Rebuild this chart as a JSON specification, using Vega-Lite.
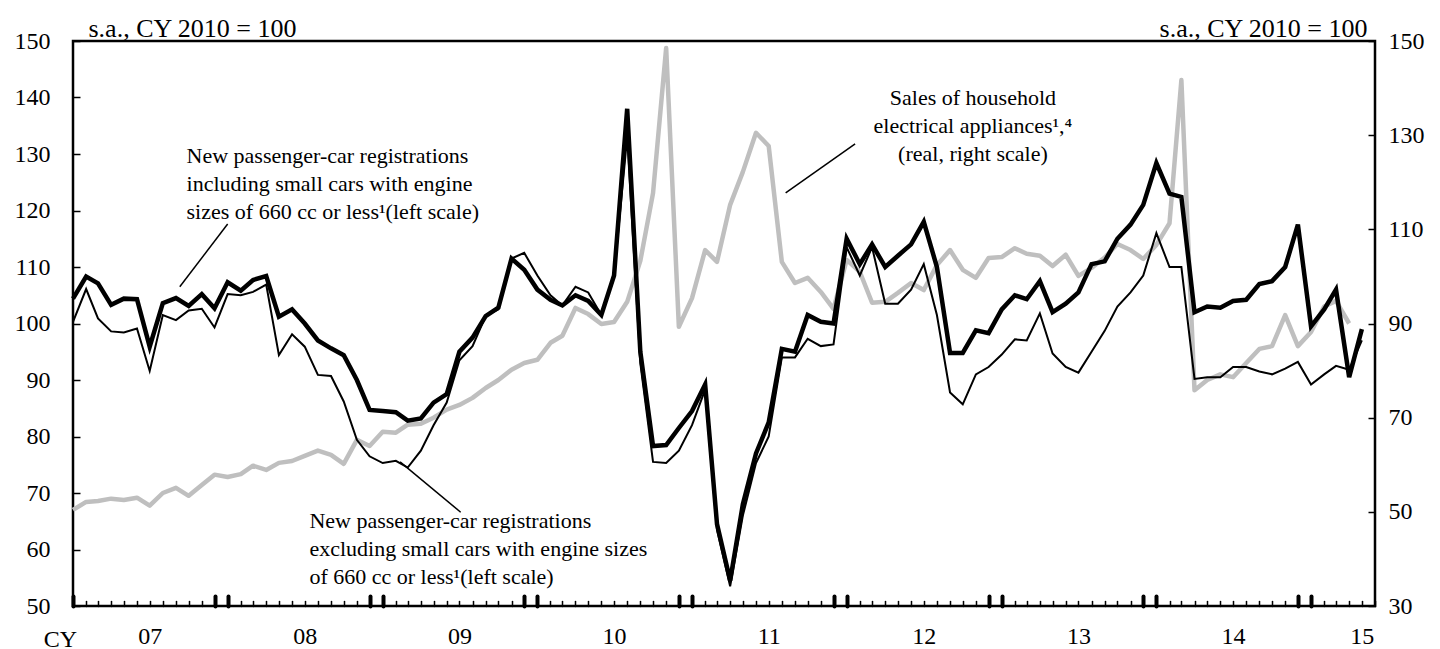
{
  "$schema": "https://vega.github.io/schema/vega-lite/v6.json",
  "autosize": {"type": "none"},
  "width": 1302,
  "height": 565,
  "padding": {"left": 73, "top": 41, "right": 65, "bottom": 43},
  "background": "white",
  "config": {
    "view": {"stroke": "black", "strokeWidth": 2.5},
    "font": "Liberation Serif",
    "axis": {"labelFont": "Liberation Serif", "titleFont": "Liberation Serif", "labelColor": "black", "titleColor": "black", "labelFontSize": 24, "titleFontSize": 26, "titleFontWeight": "normal", "grid": false, "domain": false, "tickColor": "black"}
  },
  "data": {"values": [
    {"month": "2007-01-01", "inc": 104.4, "exc": 100.3, "app": 50.4},
    {"month": "2007-02-01", "inc": 108.3, "exc": 106.1, "app": 52.1},
    {"month": "2007-03-01", "inc": 107.1, "exc": 100.9, "app": 52.3},
    {"month": "2007-04-01", "inc": 103.3, "exc": 98.6, "app": 52.8},
    {"month": "2007-05-01", "inc": 104.4, "exc": 98.4, "app": 52.5},
    {"month": "2007-06-01", "inc": 104.3, "exc": 99.1, "app": 53.0},
    {"month": "2007-07-01", "inc": 95.9, "exc": 91.6, "app": 51.3},
    {"month": "2007-08-01", "inc": 103.6, "exc": 101.5, "app": 54.0},
    {"month": "2007-09-01", "inc": 104.5, "exc": 100.6, "app": 55.1},
    {"month": "2007-10-01", "inc": 103.1, "exc": 102.3, "app": 53.4},
    {"month": "2007-11-01", "inc": 105.2, "exc": 102.6, "app": 55.7},
    {"month": "2007-12-01", "inc": 102.7, "exc": 99.3, "app": 57.9},
    {"month": "2008-01-01", "inc": 107.3, "exc": 105.2, "app": 57.4},
    {"month": "2008-02-01", "inc": 105.8, "exc": 105.0, "app": 58.0},
    {"month": "2008-03-01", "inc": 107.7, "exc": 105.6, "app": 59.8},
    {"month": "2008-04-01", "inc": 108.4, "exc": 106.9, "app": 58.9},
    {"month": "2008-05-01", "inc": 101.2, "exc": 94.4, "app": 60.4},
    {"month": "2008-06-01", "inc": 102.5, "exc": 98.1, "app": 60.8},
    {"month": "2008-07-01", "inc": 100.0, "exc": 95.9, "app": 61.9},
    {"month": "2008-08-01", "inc": 97.0, "exc": 90.9, "app": 63.0},
    {"month": "2008-09-01", "inc": 95.6, "exc": 90.7, "app": 62.1},
    {"month": "2008-10-01", "inc": 94.4, "exc": 86.2, "app": 60.2},
    {"month": "2008-11-01", "inc": 90.0, "exc": 79.4, "app": 65.3},
    {"month": "2008-12-01", "inc": 84.7, "exc": 76.5, "app": 64.0},
    {"month": "2009-01-01", "inc": 84.5, "exc": 75.3, "app": 67.0},
    {"month": "2009-02-01", "inc": 84.3, "exc": 75.7, "app": 66.8},
    {"month": "2009-03-01", "inc": 82.8, "exc": 74.5, "app": 68.5},
    {"month": "2009-04-01", "inc": 83.2, "exc": 77.5, "app": 68.7},
    {"month": "2009-05-01", "inc": 86.0, "exc": 82.0, "app": 70.0},
    {"month": "2009-06-01", "inc": 87.5, "exc": 86.0, "app": 71.7},
    {"month": "2009-07-01", "inc": 95.0, "exc": 93.5, "app": 72.7},
    {"month": "2009-08-01", "inc": 97.5, "exc": 96.0, "app": 74.2},
    {"month": "2009-09-01", "inc": 101.3, "exc": 101.3, "app": 76.3},
    {"month": "2009-10-01", "inc": 102.8, "exc": 102.5, "app": 78.0},
    {"month": "2009-11-01", "inc": 111.5, "exc": 111.5, "app": 80.2},
    {"month": "2009-12-01", "inc": 109.5, "exc": 112.5, "app": 81.6},
    {"month": "2010-01-01", "inc": 106.0, "exc": 108.5, "app": 82.3},
    {"month": "2010-02-01", "inc": 104.2, "exc": 105.0, "app": 85.9},
    {"month": "2010-03-01", "inc": 103.2, "exc": 103.2, "app": 87.4},
    {"month": "2010-04-01", "inc": 105.0, "exc": 106.5, "app": 93.3},
    {"month": "2010-05-01", "inc": 104.0, "exc": 105.5, "app": 92.0},
    {"month": "2010-06-01", "inc": 101.5, "exc": 101.5, "app": 89.9},
    {"month": "2010-07-01", "inc": 108.5, "exc": 108.5, "app": 90.3},
    {"month": "2010-08-01", "inc": 138.0, "exc": 133.0, "app": 94.6},
    {"month": "2010-09-01", "inc": 95.0, "exc": 93.0, "app": 103.3},
    {"month": "2010-10-01", "inc": 78.3, "exc": 75.5, "app": 117.7},
    {"month": "2010-11-01", "inc": 78.5, "exc": 75.3, "app": 148.5},
    {"month": "2010-12-01", "inc": 81.5, "exc": 77.5, "app": 89.3},
    {"month": "2011-01-01", "inc": 84.5, "exc": 82.0, "app": 95.4},
    {"month": "2011-02-01", "inc": 89.2, "exc": 88.3, "app": 105.6},
    {"month": "2011-03-01", "inc": 64.5, "exc": 63.5, "app": 103.1},
    {"month": "2011-04-01", "inc": 54.5, "exc": 53.5, "app": 115.2},
    {"month": "2011-05-01", "inc": 68.0, "exc": 66.0, "app": 122.2},
    {"month": "2011-06-01", "inc": 77.0, "exc": 75.3, "app": 130.5},
    {"month": "2011-07-01", "inc": 82.5, "exc": 80.0, "app": 127.7},
    {"month": "2011-08-01", "inc": 95.5, "exc": 94.0, "app": 103.1},
    {"month": "2011-09-01", "inc": 95.0, "exc": 94.0, "app": 98.6},
    {"month": "2011-10-01", "inc": 101.5, "exc": 97.3, "app": 99.7},
    {"month": "2011-11-01", "inc": 100.3, "exc": 96.0, "app": 96.7},
    {"month": "2011-12-01", "inc": 100.0, "exc": 96.3, "app": 93.1},
    {"month": "2012-01-01", "inc": 115.0, "exc": 113.5, "app": 103.5},
    {"month": "2012-02-01", "inc": 110.5, "exc": 108.5, "app": 101.0},
    {"month": "2012-03-01", "inc": 114.0, "exc": 113.5, "app": 94.4},
    {"month": "2012-04-01", "inc": 110.0, "exc": 103.5, "app": 94.6},
    {"month": "2012-05-01", "inc": 112.0, "exc": 103.5, "app": 96.5},
    {"month": "2012-06-01", "inc": 114.0, "exc": 106.0, "app": 98.6},
    {"month": "2012-07-01", "inc": 118.0, "exc": 110.5, "app": 97.1},
    {"month": "2012-08-01", "inc": 110.0, "exc": 101.5, "app": 102.4},
    {"month": "2012-09-01", "inc": 94.8, "exc": 87.8, "app": 105.6},
    {"month": "2012-10-01", "inc": 94.8, "exc": 85.7, "app": 101.4},
    {"month": "2012-11-01", "inc": 98.8, "exc": 91.0, "app": 99.7},
    {"month": "2012-12-01", "inc": 98.3, "exc": 92.3, "app": 103.9},
    {"month": "2013-01-01", "inc": 102.5, "exc": 94.5, "app": 104.1},
    {"month": "2013-02-01", "inc": 105.0, "exc": 97.2, "app": 106.0},
    {"month": "2013-03-01", "inc": 104.3, "exc": 97.0, "app": 104.8},
    {"month": "2013-04-01", "inc": 107.5, "exc": 101.8, "app": 104.4},
    {"month": "2013-05-01", "inc": 102.0, "exc": 94.7, "app": 102.2},
    {"month": "2013-06-01", "inc": 103.5, "exc": 92.3, "app": 104.6},
    {"month": "2013-07-01", "inc": 105.5, "exc": 91.3, "app": 100.1},
    {"month": "2013-08-01", "inc": 110.5, "exc": 95.0, "app": 101.8},
    {"month": "2013-09-01", "inc": 111.0, "exc": 98.7, "app": 104.0},
    {"month": "2013-10-01", "inc": 115.0, "exc": 103.0, "app": 106.9},
    {"month": "2013-11-01", "inc": 117.5, "exc": 105.5, "app": 105.6},
    {"month": "2013-12-01", "inc": 121.0, "exc": 108.5, "app": 103.7},
    {"month": "2014-01-01", "inc": 128.4, "exc": 116.0, "app": 106.7},
    {"month": "2014-02-01", "inc": 123.0, "exc": 110.0, "app": 111.3},
    {"month": "2014-03-01", "inc": 122.4, "exc": 110.0, "app": 141.7},
    {"month": "2014-04-01", "inc": 102.0, "exc": 90.2, "app": 75.8},
    {"month": "2014-05-01", "inc": 103.0, "exc": 90.5, "app": 78.0},
    {"month": "2014-06-01", "inc": 102.8, "exc": 90.5, "app": 79.2},
    {"month": "2014-07-01", "inc": 104.0, "exc": 92.3, "app": 78.6},
    {"month": "2014-08-01", "inc": 104.2, "exc": 92.3, "app": 81.6},
    {"month": "2014-09-01", "inc": 107.0, "exc": 91.5, "app": 84.6},
    {"month": "2014-10-01", "inc": 107.5, "exc": 91.0, "app": 85.2},
    {"month": "2014-11-01", "inc": 110.0, "exc": 92.0, "app": 91.8},
    {"month": "2014-12-01", "inc": 117.5, "exc": 93.2, "app": 85.2},
    {"month": "2015-01-01", "inc": 99.5, "exc": 89.2, "app": 88.2},
    {"month": "2015-02-01", "inc": 102.5, "exc": 91.0, "app": 93.6},
    {"month": "2015-03-01", "inc": 106.0, "exc": 92.5, "app": 94.8},
    {"month": "2015-04-01", "inc": 90.5, "exc": 91.8, "app": 90.0},
    {"month": "2015-05-01", "inc": 99.0, "exc": 97.0, "app": null}
  ]},
  "layer": [
    {
      "mark": {"type": "line", "color": "#bfbfbf", "strokeWidth": 4.5, "strokeJoin": "round"},
      "encoding": {
        "x": {
          "field": "month", "type": "temporal",
          "scale": {"type": "utc", "nice": false, "domain": [{"year": 2007, "month": 1, "date": 1, "utc": true}, {"year": 2015, "month": 6, "date": 1, "utc": true}]},
          "axis": {
            "tickCount": {"interval": "month", "step": 1},
            "tickSize": {"condition": {"test": "utcmonth(datum.value) == 0 || utcmonth(datum.value) == 11", "value": -10}, "value": -5},
            "tickWidth": {"condition": {"test": "utcmonth(datum.value) == 0 || utcmonth(datum.value) == 11", "value": 4}, "value": 1.5},
            "tickCap": "round",
            "labelExpr": "(utcmonth(datum.value) == 6 && utcyear(datum.value) < 2015) || (utcyear(datum.value) == 2015 && utcmonth(datum.value) == 4) ? utcFormat(datum.value, '%y') : ''",
            "labelOverlap": false, "labelFlush": false, "labelBound": false,
            "labelPadding": 23, "labelAlign": "center",
            "title": "CY", "titleFontSize": 24, "titleX": -13, "titleY": 40, "titleAlign": "center", "titleBaseline": "alphabetic", "titleAnchor": null
          }
        },
        "y": {"field": "app", "type": "quantitative", "scale": {"domain": [30, 150], "nice": false, "zero": false},
          "axis": {"orient": "right", "values": [30, 50, 70, 90, 110, 130, 150], "tickSize": -7, "tickWidth": 1.5, "labelPadding": 20, "labelAlign": "left",
            "title": "s.a., CY 2010 = 100", "titleAngle": 0, "titleX": -8, "titleY": -5, "titleAlign": "right", "titleBaseline": "alphabetic"}}
      }
    },
    {
      "layer": [
        {
          "mark": {"type": "line", "color": "black", "strokeWidth": 2},
          "encoding": {
            "x": {"field": "month", "type": "temporal"},
            "y": {"field": "exc", "type": "quantitative", "scale": {"domain": [50, 150], "nice": false, "zero": false},
            "axis": {"orient": "left", "values": [50, 60, 70, 80, 90, 100, 110, 120, 130, 140, 150], "tickSize": -7, "tickWidth": 1.5, "labelPadding": 30, "labelAlign": "right",
              "title": "s.a., CY 2010 = 100", "titleAngle": 0, "titleX": 15, "titleY": -5, "titleAlign": "left", "titleBaseline": "alphabetic"}}}
        },
        {
          "mark": {"type": "line", "color": "black", "strokeWidth": 4.5},
          "encoding": {"x": {"field": "month", "type": "temporal"}, "y": {"field": "inc", "type": "quantitative"}}
        },
        {
          "data": {"values": [{}]},
          "mark": {"type": "rule", "color": "black", "strokeWidth": 1.5},
          "encoding": {
            "x": {"datum": {"year": 2007, "month": 9, "date": 10, "utc": true}, "type": "temporal"},
            "x2": {"datum": {"year": 2008, "month": 1, "date": 1, "utc": true}},
            "y": {"datum": 106.5}, "y2": {"datum": 117.6}
          }
        },
        {
          "data": {"values": [{}]},
          "mark": {"type": "rule", "color": "black", "strokeWidth": 1.5},
          "encoding": {
            "x": {"datum": {"year": 2011, "month": 8, "date": 10, "utc": true}, "type": "temporal"},
            "x2": {"datum": {"year": 2012, "month": 1, "date": 21, "utc": true}},
            "y": {"datum": 123.1}, "y2": {"datum": 131.8}
          }
        },
        {
          "data": {"values": [{}]},
          "mark": {"type": "rule", "color": "black", "strokeWidth": 1.5},
          "encoding": {
            "x": {"datum": {"year": 2009, "month": 2, "date": 11, "utc": true}, "type": "temporal"},
            "x2": {"datum": {"year": 2009, "month": 7, "date": 4, "utc": true}},
            "y": {"datum": 75.5}, "y2": {"datum": 66.6}
          }
        },
        {
          "data": {"values": [{}]},
          "mark": {"type": "text", "align": "left", "baseline": "middle", "fontSize": 22, "lineHeight": 28, "font": "Liberation Serif",
            "text": ["New passenger-car registrations", "including small cars with engine", "sizes of 660 cc or less¹(left scale)"]},
          "encoding": {
            "x": {"datum": {"year": 2007, "month": 9, "date": 26, "utc": true}, "type": "temporal"},
            "y": {"datum": 129.7}
          }
        },
        {
          "data": {"values": [{}]},
          "mark": {"type": "text", "align": "center", "baseline": "middle", "fontSize": 22, "lineHeight": 28, "font": "Liberation Serif",
            "text": ["Sales of household", "electrical appliances¹,⁴", " (real, right scale)"]},
          "encoding": {
            "x": {"datum": {"year": 2012, "month": 10, "date": 25, "utc": true}, "type": "temporal"},
            "y": {"datum": 139.9}
          }
        },
        {
          "data": {"values": [{}]},
          "mark": {"type": "text", "align": "left", "baseline": "middle", "fontSize": 22, "lineHeight": 28, "font": "Liberation Serif",
            "text": ["New passenger-car registrations", "excluding small cars with engine sizes", "of 660 cc or less¹(left scale)"]},
          "encoding": {
            "x": {"datum": {"year": 2008, "month": 7, "date": 12, "utc": true}, "type": "temporal"},
            "y": {"datum": 65.0}
          }
        }
      ]
    }
  ],
  "resolve": {"scale": {"y": "independent"}, "axis": {"y": "independent"}}
}
